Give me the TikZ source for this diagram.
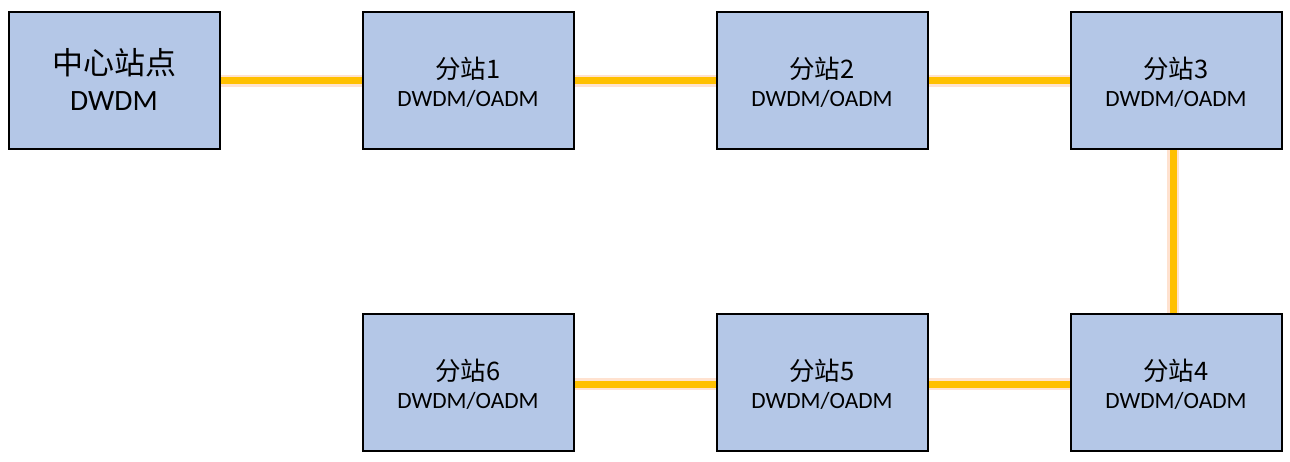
\documentclass[tikz,border=0pt]{standalone}
\usepackage{fontspec}
\setmainfont{Carlito}
\newfontfamily\cjk{Noto Sans CJK SC}
\usetikzlibrary{backgrounds}
\definecolor{boxfill}{RGB}{180,199,231}
\definecolor{linkc}{RGB}{255,192,0}
\definecolor{glowc}{RGB}{255,190,150}
\tikzset{
  box/.style={draw=black, line width=2pt, fill=boxfill, minimum width=211pt, minimum height=137pt, inner sep=0pt},
  ttl/.style={anchor=base, inner sep=0pt, font=\cjk\fontsize{25.5}{28}\selectfont},
  bigttl/.style={anchor=base, inner sep=0pt, font=\cjk\fontsize{31}{34}\selectfont},
  sub/.style={anchor=base, inner sep=0pt, font=\fontsize{23.3}{26}\selectfont},
  bigsub/.style={anchor=base, inner sep=0pt, font=\fontsize{29.5}{34}\selectfont},
  link/.style={draw=linkc, line width=7pt, preaction={draw=glowc, line width=12pt, opacity=0.45}}
}
\begin{document}
\begin{tikzpicture}[x=1pt, y=-1pt]
\useasboundingbox (0,0) rectangle (1290,462);
\node[box] (c) at (114,81) {};
\node[box] (b1) at (468,81) {};
\node[box] (b2) at (822,81) {};
\node[box] (b3) at (1176,81) {};
\node[box] (b4) at (1176,382) {};
\node[box] (b5) at (822,382) {};
\node[box] (b6) at (468,382) {};
\node[bigttl] (ct) at (114,74.5) {中心站点};
\node[bigsub] (cs) at (114,111) {DWDM};
\node[ttl] (b1t) at (468,79) {分站1};
\node[sub] (b1s) at (468,107) {DWDM/OADM};
\node[ttl] (b2t) at (822,79) {分站2};
\node[sub] (b2s) at (822,107) {DWDM/OADM};
\node[ttl] (b3t) at (1176,79) {分站3};
\node[sub] (b3s) at (1176,107) {DWDM/OADM};
\node[ttl] (b4t) at (1176,380) {分站4};
\node[sub] (b4s) at (1176,408) {DWDM/OADM};
\node[ttl] (b5t) at (822,380) {分站5};
\node[sub] (b5s) at (822,408) {DWDM/OADM};
\node[ttl] (b6t) at (468,380) {分站6};
\node[sub] (b6s) at (468,408) {DWDM/OADM};
\begin{scope}[on background layer]
\draw[link] (c.east) -- (b1.west);
\draw[link] (b1.east) -- (b2.west);
\draw[link] (b2.east) -- (b3.west);
\draw[link] ([xshift=-3pt]b3.south) -- ([xshift=-3pt]b4.north);
\draw[link] ([yshift=-2pt]b4.west) -- ([yshift=-2pt]b5.east);
\draw[link] ([yshift=-2pt]b5.west) -- ([yshift=-2pt]b6.east);
\end{scope}
\end{tikzpicture}
\end{document}
